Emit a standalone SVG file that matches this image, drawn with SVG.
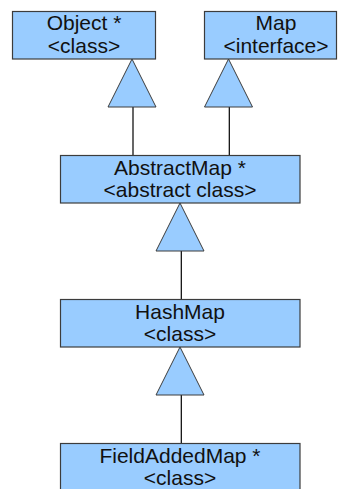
<svg xmlns="http://www.w3.org/2000/svg" width="339" height="489" viewBox="0 0 339 489">
<style>
.box{fill:#99ccff;stroke:#3c3c3c;stroke-width:1.2}
.tri{fill:#99ccff;stroke:#3c3c3c;stroke-width:1}
.ln{stroke:#000;stroke-width:1.2;fill:none}
text{font-family:"Liberation Sans",Arial,sans-serif;font-size:21px;fill:#111;text-anchor:middle}
</style>
<rect width="339" height="489" fill="#fff"/>
<g id="connectors">
<line class="ln" x1="133" y1="107" x2="133" y2="155"/>
<polygon class="tri" points="132,59 108,107 156,107"/>
<line class="ln" x1="229.3" y1="107" x2="229.3" y2="155"/>
<polygon class="tri" points="228.5,59 204.5,107 252.5,107"/>
<line class="ln" x1="181.3" y1="251" x2="181.3" y2="299"/>
<polygon class="tri" points="180,203 156,251 204,251"/>
<line class="ln" x1="181.3" y1="395" x2="181.3" y2="443"/>
<polygon class="tri" points="180,347 156,395 204,395"/>
</g>
<g id="object">
<rect class="box" x="12.5" y="11.5" width="143" height="47.5"/>
<text x="84" y="30">Object *</text>
<text x="84" y="52.5">&lt;class&gt;</text>
</g>
<g id="map">
<rect class="box" x="204.5" y="11.5" width="132" height="47.5"/>
<text x="276" y="30">Map</text>
<text x="276" y="52.5">&lt;interface&gt;</text>
</g>
<g id="abstractmap">
<rect class="box" x="60.5" y="155.5" width="239.5" height="47.5"/>
<text x="180" y="174.5">AbstractMap *</text>
<text x="180" y="197">&lt;abstract class&gt;</text>
</g>
<g id="hashmap">
<rect class="box" x="60.5" y="299.5" width="239.5" height="47.5"/>
<text x="180" y="318.5">HashMap</text>
<text x="180" y="341">&lt;class&gt;</text>
</g>
<g id="fieldaddedmap">
<rect class="box" x="60.5" y="443.5" width="239.5" height="48"/>
<text x="180" y="462.5">FieldAddedMap *</text>
<text x="180" y="485">&lt;class&gt;</text>
</g>
</svg>
